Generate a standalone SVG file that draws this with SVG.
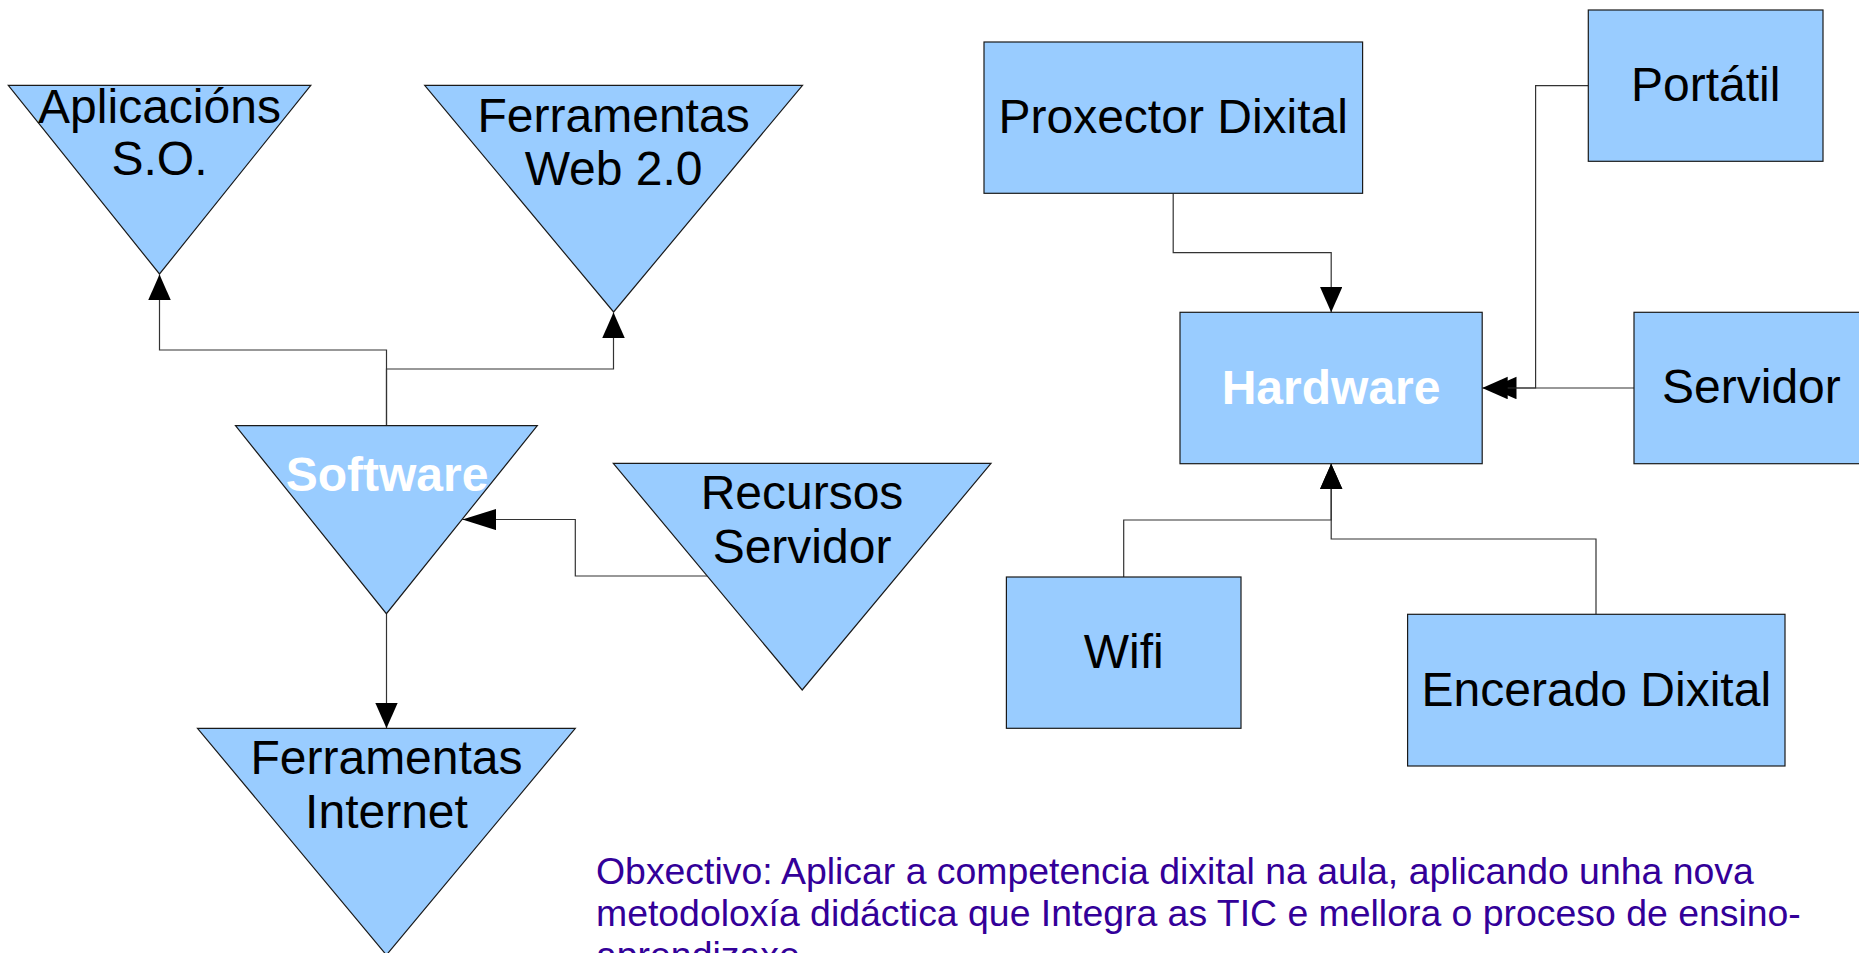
<svg xmlns="http://www.w3.org/2000/svg" width="1859" height="953" viewBox="0 0 1859 953">
<style>
.shape{fill:#99ccff;stroke:#1a1a1a;stroke-width:1.2}
.lbl{font-family:"Liberation Sans",Arial,sans-serif;font-size:48px;fill:#000;text-anchor:middle}
.bold{font-weight:bold;fill:#fff}
.conn{fill:none;stroke:#333;stroke-width:1.2}
.note{font-family:"Liberation Sans",Arial,sans-serif;font-size:37.4px;fill:#330099}
</style>
<defs>
<marker id="arrow" markerUnits="userSpaceOnUse" markerWidth="26" markerHeight="23" refX="25.5" refY="11.25" orient="auto" viewBox="0 0 26 23">
<path d="M0,0 L25.5,11.25 L0,22.5 z" fill="#000"/>
</marker>
<marker id="arrowLong" markerUnits="userSpaceOnUse" markerWidth="35" markerHeight="22" refX="34" refY="10.75" orient="auto" viewBox="0 0 35 22">
<path d="M0,0 L34,10.75 L0,21.5 z" fill="#000"/>
</marker>
</defs>
<rect width="1859" height="953" fill="#fff"/>

<g id="connectors">
<path class="conn" d="M386.5,425.7 V350 H159.5 V274.5" marker-end="url(#arrow)"/>
<path class="conn" d="M386.5,425.7 V369 H613.5 V312.5" marker-end="url(#arrow)"/>
<path class="conn" d="M386.5,613.7 V728.3" marker-end="url(#arrow)"/>
<path class="conn" d="M707.3,576 H575.3 V519.5 H462.4" marker-end="url(#arrowLong)"/>
<path class="conn" d="M1173.2,193.3 V252.7 H1331.2 V312.3" marker-end="url(#arrow)"/>
<path class="conn" d="M1588.3,85.7 H1535.6 V388 H1491" marker-end="url(#arrow)"/>
<path class="conn" d="M1634,388 H1482.2" marker-end="url(#arrow)"/>
<path class="conn" d="M1123.7,577 V520 H1331.2 V463.7" marker-end="url(#arrow)"/>
<path class="conn" d="M1596,614.3 V539 H1331.2 V463.7" marker-end="url(#arrow)"/>
</g>

<g id="aplicacions">
<polygon class="shape" points="8.3,85.3 310.8,85.3 159.5,274"/>
<text class="lbl" x="159.5" y="123.3">Aplicacións</text>
<text class="lbl" x="159.5" y="175">S.O.</text>
</g>
<g id="web20">
<polygon class="shape" points="424.7,85.3 802.5,85.3 613.6,312"/>
<text class="lbl" x="613.6" y="131.7">Ferramentas</text>
<text class="lbl" x="613.6" y="185">Web 2.0</text>
</g>
<g id="software">
<polygon class="shape" points="235.5,425.7 537.3,425.7 386.4,613.7"/>
<text class="lbl bold" x="387" y="490.7">Software</text>
</g>
<g id="recursos">
<polygon class="shape" points="613.3,463.3 991,463.3 802.2,690"/>
<text class="lbl" x="802" y="509.3">Recursos</text>
<text class="lbl" x="802" y="563.3">Servidor</text>
</g>
<g id="internet">
<polygon class="shape" points="197.5,728.3 575.3,728.3 386.4,955"/>
<text class="lbl" x="386.5" y="774.3">Ferramentas</text>
<text class="lbl" x="386.5" y="827.7">Internet</text>
</g>

<g id="proxector">
<rect class="shape" x="984" y="42" width="378.6" height="151.3"/>
<text class="lbl" x="1173.2" y="133.3">Proxector Dixital</text>
</g>
<g id="portatil">
<rect class="shape" x="1588.3" y="10" width="234.7" height="151.3"/>
<text class="lbl" x="1705.7" y="101">Portátil</text>
</g>
<g id="hardware">
<rect class="shape" x="1180" y="312.3" width="302.2" height="151.4"/>
<text class="lbl bold" x="1331.1" y="404.3">Hardware</text>
</g>
<g id="servidor">
<rect class="shape" x="1634" y="312.3" width="234.7" height="151.4"/>
<text class="lbl" x="1751.4" y="403.3">Servidor</text>
</g>
<g id="wifi">
<rect class="shape" x="1006.4" y="577" width="234.6" height="151.3"/>
<text class="lbl" x="1123.7" y="667.7">Wifi</text>
</g>
<g id="encerado">
<rect class="shape" x="1407.6" y="614.3" width="377.4" height="151.7"/>
<text class="lbl" x="1596.3" y="706">Encerado Dixital</text>
</g>

<g id="obxectivo">
<text class="note" x="596" y="884.3">Obxectivo: Aplicar a competencia dixital na aula, aplicando unha nova</text>
<text class="note" x="596" y="926">metodoloxía didáctica que Integra as TIC e mellora o proceso de ensino-</text>
<text class="note" x="596" y="968">aprendizaxe</text>
</g>
</svg>
